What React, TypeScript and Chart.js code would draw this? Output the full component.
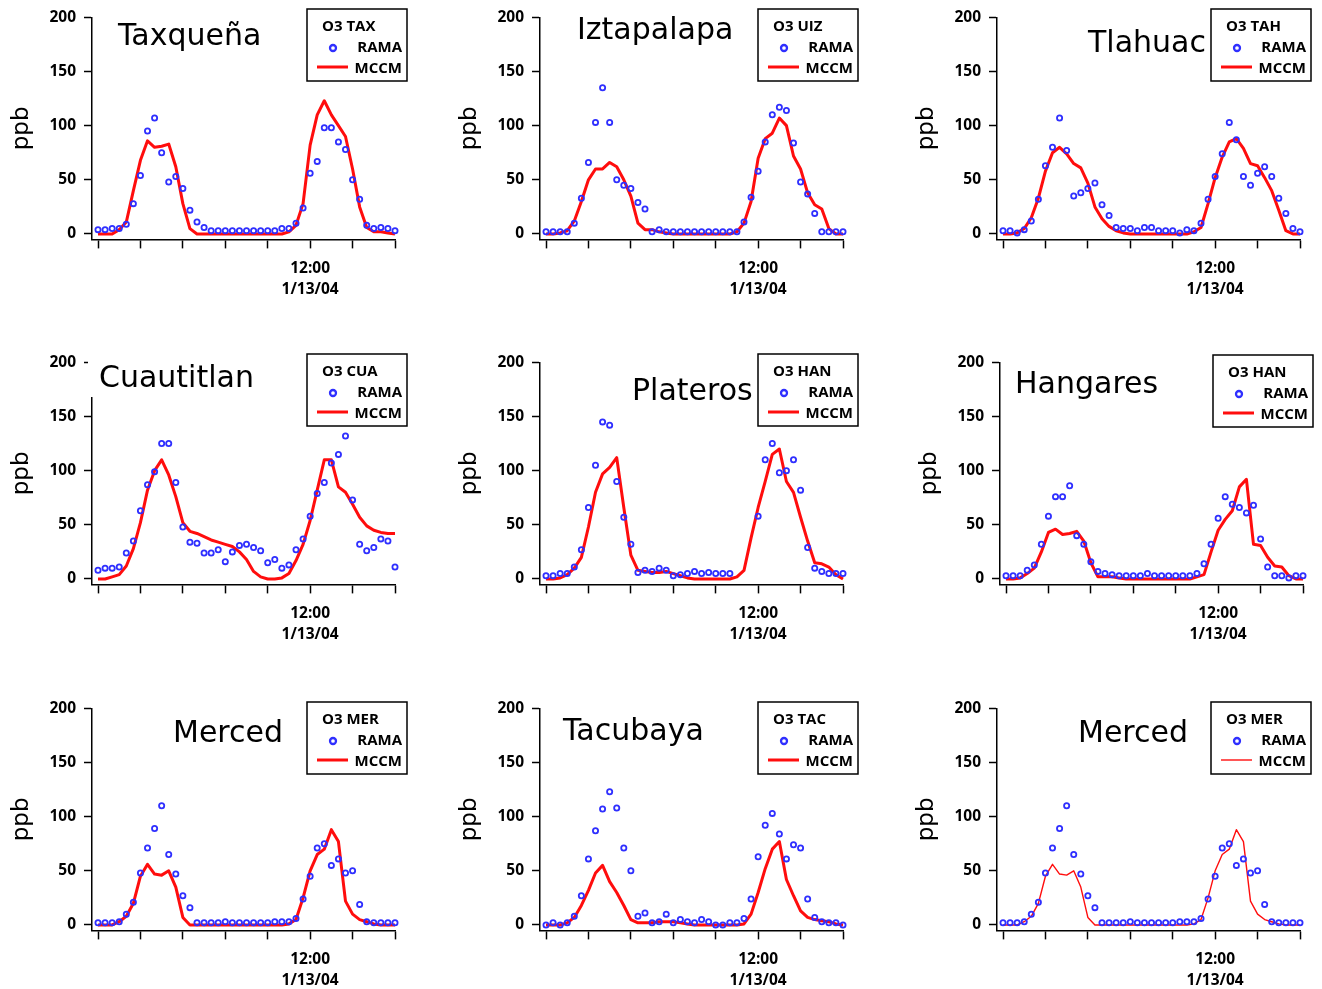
import React, { useEffect, useRef } from 'react';
import { Chart, registerables } from 'chart.js';

Chart.register(...registerables);

const TITLE_FONT = '"DejaVu Sans", "Noto Sans", sans-serif';
const FONT = '"Open Sans", "DejaVu Sans", sans-serif';
const RED = '#ff0d0d';
const BLUE = '#2f2fff';

// hours since 06:00 on 1/12/04 (hourly samples)
const hours = [0, 1, 2, 3, 4, 5, 6, 7, 8, 9, 10, 11, 12, 13, 14, 15, 16, 17, 18, 19, 20, 21, 22, 23, 24, 25, 26, 27, 28, 29, 30, 31, 32, 33, 34, 35, 36, 37, 38, 39, 40, 41, 42];
const xTickValues = [0, 6, 12, 18, 24, 30, 36, 42];
const xLabelHour = 30;
const xLabelText = ['12:00', '1/13/04'];
const yTickValues = [0, 50, 100, 150, 200];
const seriesNames = ['RAMA', 'MCCM'];

const taxRama = [4, 4, 5, 5, 9, 28, 54, 95, 107, 75, 48, 53, 42, 22, 11, 6, 3, 3, 3, 3, 3, 3, 3, 3, 3, 3, 5, 5, 10, 24, 56, 67, 98, 98, 85, 78, 50, 32, 8, 5, 6, 5, 3];
const taxMccm = [0, 0, 0, 4, 11, 40, 68, 86, 80, 81, 83, 62, 28, 5, 0, 0, 0, 0, 0, 0, 0, 0, 0, 0, 0, 0, 0, 2, 8, 28, 82, 110, 123, 110, 100, 90, 60, 25, 6, 2, 2, 1, 0];

const uizRama = [2, 2, 2, 2, 10, 33, 66, 103, 135, 103, 50, 45, 42, 29, 23, 2, 4, 2, 2, 2, 2, 2, 2, 2, 2, 2, 2, 2, 11, 34, 58, 85, 110, 117, 114, 84, 48, 37, 19, 2, 2, 2, 2];
const uizMccm = [0, 0, 1, 3, 12, 30, 50, 60, 60, 66, 62, 50, 35, 10, 4, 4, 2, 1, 0, 0, 0, 0, 0, 0, 0, 0, 0, 2, 10, 30, 70, 88, 93, 107, 100, 72, 60, 38, 27, 23, 5, 0, 0];

const tahRama = [3, 3, 1, 4, 12, 32, 63, 80, 107, 77, 35, 38, 42, 47, 27, 17, 6, 5, 5, 3, 6, 6, 3, 3, 3, 1, 4, 3, 10, 32, 53, 74, 103, 87, 53, 45, 56, 62, 53, 33, 19, 5, 2];
const tahMccm = [0, 0, 1, 5, 15, 33, 58, 75, 80, 74, 65, 61, 47, 25, 14, 7, 3, 1, 0, 0, 0, 0, 0, 0, 0, 0, 0, 2, 6, 28, 52, 71, 85, 88, 79, 65, 63, 52, 40, 22, 3, 0, 0];

const cuaRama = [8, 10, 10, 11, 24, 35, 63, 87, 99, 125, 125, 89, 48, 34, 33, 24, 24, 27, 16, 25, 31, 32, 29, 26, 15, 18, 10, 13, 27, 37, 58, 79, 89, 107, 115, 132, 73, 32, 26, 29, 37, 35, 11];
const cuaMccm = [0, 0, 2, 4, 12, 28, 52, 82, 100, 110, 96, 76, 52, 44, 42, 39, 36, 34, 32, 30, 25, 18, 7, 2, 0, 0, 1, 5, 17, 32, 54, 82, 110, 110, 85, 80, 69, 57, 49, 45, 43, 42, 42];

const plaRama = [3, 3, 5, 5, 11, 27, 66, 105, 145, 142, 90, 57, 32, 6, 8, 7, 10, 8, 3, 4, 5, 7, 5, 6, 5, 5, 5, null, null, null, 58, 110, 125, 98, 100, 110, 82, 29, 10, 7, 5, 5, 5];
const plaMccm = [0, 0, 1, 4, 10, 20, 48, 80, 97, 103, 112, 66, 22, 8, 7, 6, 6, 7, 5, 3, 1, 0, 0, 0, 0, 0, 0, 2, 8, 38, 66, 90, 115, 120, 90, 80, 57, 35, 15, 14, 11, 4, 0];

const hanRama = [3, 3, 3, 8, 13, 32, 58, 76, 76, 86, 40, 32, 16, 7, 5, 4, 3, 3, 3, 3, 5, 3, 3, 3, 3, 3, 3, 5, 14, 32, 56, 76, 69, 66, 61, 68, 37, 11, 3, 3, 1, 3, 3];
const hanMccm = [0, 0, 1, 5, 10, 25, 43, 46, 41, 42, 44, 35, 15, 2, 2, 2, 1, 0, 0, 0, 0, 0, 0, 0, 0, 0, 0, 2, 4, 25, 45, 55, 63, 85, 92, 32, 31, 20, 12, 11, 3, 0, 0];

const merRama = [2, 2, 2, 3, 10, 21, 48, 71, 89, 110, 65, 47, 27, 16, 2, 2, 2, 2, 3, 2, 2, 2, 2, 2, 2, 3, 3, 3, 6, 24, 45, 71, 75, 55, 61, 48, 50, 19, 3, 2, 2, 2, 2];
const merMccm = [0, 0, 0, 3, 8, 20, 45, 56, 47, 46, 50, 35, 7, 0, 0, 0, 0, 0, 0, 0, 0, 0, 0, 0, 0, 0, 0, 1, 5, 25, 50, 65, 70, 88, 77, 22, 10, 5, 3, 1, 0, 0, 0];

const tacRama = [0, 2, 0, 2, 8, 27, 61, 87, 107, 123, 108, 71, 50, 8, 11, 2, 3, 10, 2, 5, 3, 2, 5, 3, 0, 0, 2, 2, 6, 24, 63, 92, 103, 84, 61, 74, 71, 24, 7, 3, 2, 2, 0];
const tacMccm = [0, 0, 0, 2, 7, 18, 32, 48, 55, 40, 30, 18, 5, 2, 2, 2, 3, 3, 3, 2, 1, 0, 0, 0, 0, 0, 0, 0, 1, 10, 30, 52, 70, 77, 42, 27, 13, 7, 5, 4, 3, 1, 0];

type PanelDef = {
  title: string;
  code: string;
  rama: (number | null)[];
  mccm: number[];
  left: number;
  top: number;
  titleX: number;
  titleY: number;
  legendX: number;
  legendY: number;
  titleBg?: boolean;
  thin?: boolean;
};

const panels: PanelDef[] = [
  { title: 'Taxqueña', code: 'O3 TAX', rama: taxRama, mccm: taxMccm, left: 0, top: 0, titleX: 118, titleY: 45, legendX: 307, legendY: 9 },
  { title: 'Iztapalapa', code: 'O3 UIZ', rama: uizRama, mccm: uizMccm, left: 448, top: 0, titleX: 129, titleY: 39, legendX: 310, legendY: 9 },
  { title: 'Tlahuac', code: 'O3 TAH', rama: tahRama, mccm: tahMccm, left: 905, top: 0, titleX: 183, titleY: 52, legendX: 306, legendY: 9 },
  { title: 'Cuautitlan', code: 'O3 CUA', rama: cuaRama, mccm: cuaMccm, left: 0, top: 345, titleX: 99, titleY: 42, legendX: 307, legendY: 9, titleBg: true },
  { title: 'Plateros', code: 'O3 HAN', rama: plaRama, mccm: plaMccm, left: 448, top: 345, titleX: 184, titleY: 55, legendX: 310, legendY: 9 },
  { title: 'Hangares', code: 'O3 HAN', rama: hanRama, mccm: hanMccm, left: 908, top: 345, titleX: 107, titleY: 48, legendX: 305, legendY: 10 },
  { title: 'Merced', code: 'O3 MER', rama: merRama, mccm: merMccm, left: 0, top: 691, titleX: 173, titleY: 51, legendX: 307, legendY: 11 },
  { title: 'Tacubaya', code: 'O3 TAC', rama: tacRama, mccm: tacMccm, left: 448, top: 691, titleX: 115, titleY: 49, legendX: 310, legendY: 11 },
  { title: 'Merced', code: 'O3 MER', rama: merRama, mccm: merMccm, left: 905, top: 691, titleX: 173, titleY: 51, legendX: 306, legendY: 11, thin: true },
];

const W = 440;
const H = 330;
const PAD_TOP = 17;
const Y_AXIS_W = 92;
const AREA_RIGHT = 395;
const PLOT_H = 222.4;

function Panel({ p }: { p: PanelDef }) {
  const ref = useRef<HTMLCanvasElement>(null);
  useEffect(() => {
    const canvas = ref.current;
    if (!canvas) return;
    const lineW = p.thin ? 1.4 : 3;
    const decor = {
      id: 'decor',
      afterDraw(chart: any) {
        const ctx = chart.ctx as CanvasRenderingContext2D;
        ctx.save();
        // panel title
        ctx.font = `30px ${TITLE_FONT}`;
        ctx.textBaseline = 'alphabetic';
        ctx.textAlign = 'left';
        if (p.titleBg) {
          const w = ctx.measureText(p.title).width;
          ctx.fillStyle = '#ffffff';
          ctx.fillRect(88, 0, p.titleX - 88 + w + 6, p.titleY + 10);
        }
        ctx.fillStyle = '#000';
        ctx.fillText(p.title, p.titleX, p.titleY);
        // legend box
        const bx = p.legendX;
        const by = p.legendY;
        ctx.fillStyle = '#fff';
        ctx.fillRect(bx, by, 100, 72);
        ctx.strokeStyle = '#000';
        ctx.lineWidth = 1.5;
        ctx.strokeRect(bx, by, 100, 72);
        ctx.font = `bold 15px ${FONT}`;
        ctx.fillStyle = '#000';
        ctx.textBaseline = 'middle';
        ctx.textAlign = 'left';
        ctx.fillText(p.code, bx + 15, by + 18);
        ctx.textAlign = 'right';
        ctx.fillText(seriesNames[0], bx + 95, by + 39);
        ctx.fillText(seriesNames[1], bx + 95, by + 60);
        ctx.beginPath();
        ctx.arc(bx + 26, by + 39, 3, 0, Math.PI * 2);
        ctx.strokeStyle = BLUE;
        ctx.lineWidth = 2.3;
        ctx.stroke();
        ctx.beginPath();
        ctx.moveTo(bx + 10, by + 58);
        ctx.lineTo(bx + 41, by + 58);
        ctx.strokeStyle = RED;
        ctx.lineWidth = lineW;
        ctx.stroke();
        ctx.restore();
      },
    };

    const chart = new Chart(canvas, {
      type: 'line',
      data: {
        datasets: [
          {
            label: seriesNames[1],
            data: hours.map((h, i) => ({ x: h, y: p.mccm[i] })),
            borderColor: RED,
            backgroundColor: RED,
            borderWidth: lineW,
            borderJoinStyle: 'round',
            pointRadius: 0,
            tension: 0,
            clip: false,
            order: 1,
          } as any,
          {
            label: seriesNames[0],
            data: hours.map((h, i) => ({ x: h, y: p.rama[i] })),
            showLine: false,
            pointRadius: 2.6,
            pointBorderWidth: 1.8,
            pointBorderColor: BLUE,
            pointBackgroundColor: 'rgba(255,255,255,0)',
            pointHoverRadius: 2.6,
            clip: false,
            order: 0,
          } as any,
        ],
      },
      options: {
        responsive: false,
        animation: false,
        devicePixelRatio: 1,
        events: [],
        layout: { padding: { left: 0, top: PAD_TOP, right: W - AREA_RIGHT, bottom: 0 } },
        plugins: {
          legend: { display: false },
          tooltip: { enabled: false },
          title: { display: false },
        },
        scales: {
          x: {
            type: 'linear',
            min: -0.85,
            max: 42,
            afterBuildTicks: (s: any) => {
              s.ticks = xTickValues.map((v) => ({ value: v }));
            },
            afterFit: (s: any) => {
              s.height = H - PAD_TOP - PLOT_H;
            },
            border: { display: true, color: '#000', width: 1.5 },
            grid: { display: true, drawOnChartArea: false, drawTicks: true, tickLength: 9, tickWidth: 1.5, tickColor: '#000', color: '#000' },
            ticks: {
              autoSkip: false,
              maxRotation: 0,
              minRotation: 0,
              padding: 9.5,
              color: '#000',
              font: { family: FONT, size: 15.5, weight: 'bold', lineHeight: 1.35 },
              callback: (v: any) => (v === xLabelHour ? xLabelText : ''),
            },
          },
          y: {
            type: 'linear',
            min: -5,
            max: 200,
            afterBuildTicks: (s: any) => {
              s.ticks = yTickValues.map((v) => ({ value: v }));
            },
            afterFit: (s: any) => {
              s.width = Y_AXIS_W;
            },
            border: { display: true, color: '#000', width: 1.5 },
            grid: { display: true, drawOnChartArea: false, drawTicks: true, tickLength: 8, tickWidth: 1.5, tickColor: '#000', color: '#000' },
            ticks: {
              padding: 8,
              color: '#000',
              font: { family: FONT, size: 15.5, weight: 'bold' },
            },
            title: {
              display: true,
              text: 'ppb',
              color: '#000',
              font: { family: TITLE_FONT, size: 23 },
              padding: { top: 8, bottom: 0 },
            },
          },
        },
      } as any,
      plugins: [decor],
    });
    return () => chart.destroy();
  }, [p]);
  return (
    <canvas
      ref={ref}
      width={W}
      height={H}
      style={{ position: 'absolute', left: p.left, top: p.top, width: W, height: H }}
    />
  );
}

export default function App() {
  return (
    <div
      style={{
        position: 'absolute',
        left: 0,
        top: 0,
        width: 1322,
        height: 989,
        overflow: 'hidden',
        background: '#fff',
      }}
    >
      {panels.map((p, i) => (
        <Panel key={i} p={p} />
      ))}
    </div>
  );
}
